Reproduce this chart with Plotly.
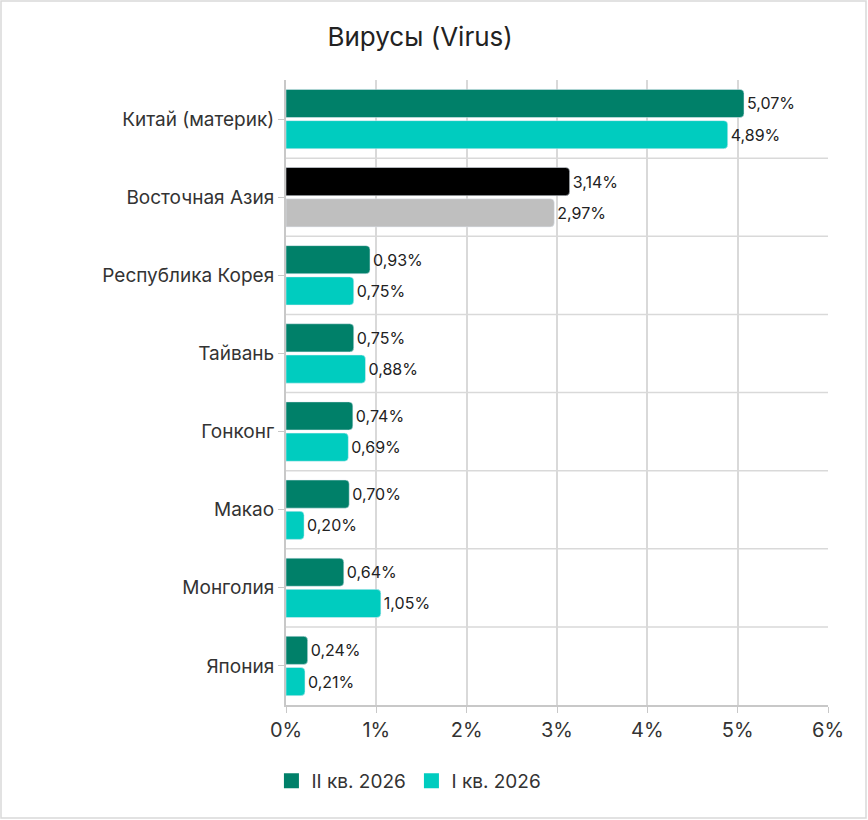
import plotly.graph_objects as go

# Данные
categories = ['Китай (материк)', 'Восточная Азия', 'Республика Корея', 'Тайвань',
              'Гонконг', 'Макао', 'Монголия', 'Япония']
q2_2026 = [5.07, 3.14, 0.93, 0.75, 0.74, 0.70, 0.64, 0.24]
q1_2026 = [4.89, 2.97, 0.75, 0.88, 0.69, 0.20, 1.05, 0.21]
series_names = ['II кв. 2026', 'I кв. 2026']

TEAL_DARK = '#008069'
TEAL_LIGHT = '#00CCBF'
REGION = 'Восточная Азия'

colors_q2 = ['#000000' if c == REGION else TEAL_DARK for c in categories]
colors_q1 = ['#BFBFBF' if c == REGION else TEAL_LIGHT for c in categories]

FONT = 'Inter'
W, H = 868, 820
ml, mr, mt, mb = 286, 40, 80, 115

fig = go.Figure()
for vals, cols, name, legcol in [(q2_2026, colors_q2, series_names[0], TEAL_DARK),
                                 (q1_2026, colors_q1, series_names[1], TEAL_LIGHT)]:
    fig.add_trace(go.Bar(
        y=categories, x=vals, name=name, orientation='h', showlegend=False,
        marker=dict(color=cols), texttemplate='%{x:.2f}%', textposition='outside',
        textfont=dict(size=16, color='#222222'), cliponaxis=False,
    ))
    # квадратный маркер для легенды
    fig.add_trace(go.Scatter(
        x=[None], y=[None], mode='markers', name=name,
        marker=dict(symbol='square', size=15, color=legcol),
    ))

# линии-разделители между категориями
shapes = []
for i in range(1, len(categories)):
    shapes.append(dict(type='line', xref='paper', yref='y', x0=0, x1=1,
                       y0=i - 0.5, y1=i - 0.5, line=dict(color='#D9D9D9', width=1.5),
                       layer='below'))
# рамка вокруг всей картинки
pw, ph = W - ml - mr, H - mt - mb
shapes.append(dict(type='rect', xref='paper', yref='paper',
                   x0=-(ml - 1) / pw, x1=1 + (mr - 2) / pw,
                   y0=-(mb - 2) / ph, y1=1 + (mt - 1) / ph,
                   line=dict(color='#D9D9D9', width=1.5)))

fig.update_layout(
    width=W, height=H,
    margin=dict(l=ml, r=mr, t=mt, b=mb),
    title=dict(text='Вирусы (Virus)', x=0.484, xref='container', xanchor='center',
               y=1 - 37 / H, yanchor='middle', font=dict(size=26, color='#222222', family=FONT)),
    font=dict(family=FONT, color='#333333'),
    separators=', ',
    barmode='group', bargap=0.2, bargroupgap=0.1, barcornerradius=4,
    plot_bgcolor='white', paper_bgcolor='white',
    legend=dict(orientation='h', xref='container', yref='container', x=0.474, xanchor='center',
                y=1 - 781 / H, yanchor='middle', font=dict(size=19, color='#333333'),
                traceorder='normal', entrywidth=95),
    shapes=shapes,
)
fig.update_xaxes(
    range=[0, 6], dtick=1, ticksuffix='%', showgrid=True, gridcolor='#D9D9D9', gridwidth=1.5,
    showline=True, linecolor='#C8C8C8', linewidth=2, ticks='outside', tickcolor='#C8C8C8',
    ticklen=6, tickfont=dict(size=20, color='#333333'), zeroline=False,
)
fig.update_yaxes(
    autorange='reversed', showgrid=False, showline=True, linecolor='#C8C8C8', linewidth=2,
    ticks='outside', tickcolor='#C8C8C8', ticklen=6, tickfont=dict(size=19, color='#333333'),
)

fig.write_html('out.html', config={'displayModeBar': False},
               post_script="document.body.style.margin='0';")
